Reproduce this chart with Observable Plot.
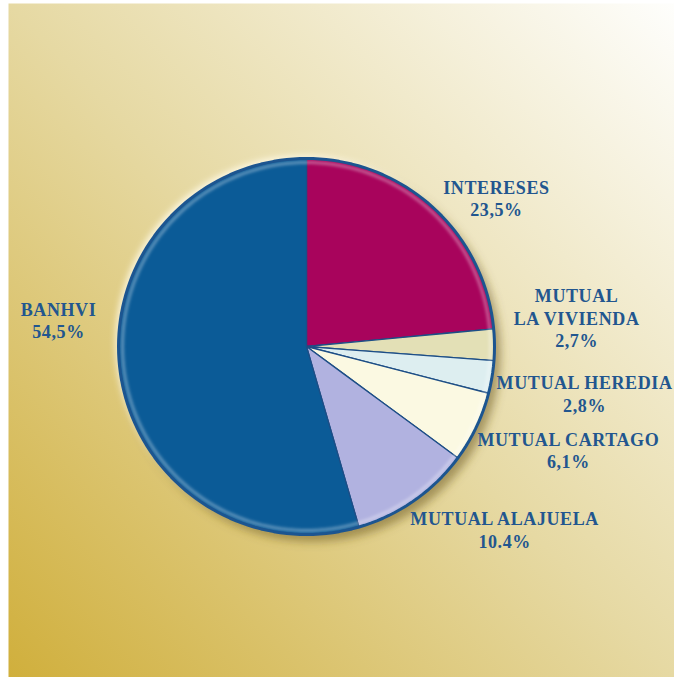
<!DOCTYPE html>
<html><head><meta charset="utf-8">
<script src="https://cdn.jsdelivr.net/npm/d3@7"></script>
<script src="https://cdn.jsdelivr.net/npm/@observablehq/plot@0.6"></script>
<style>html,body{margin:0;padding:0;background:#fff;}#chart{width:674px;height:677px;}</style>
</head><body><div id="chart"></div>
<script>
// ---- data ----
const categories = ["INTERESES", "MUTUAL\nLA VIVIENDA", "MUTUAL HEREDIA", "MUTUAL CARTAGO", "MUTUAL ALAJUELA", "BANHVI"];
const shares = [23.5, 2.7, 2.8, 6.1, 10.4, 54.5];
const shareLabels = ["23,5%", "2,7%", "2,8%", "6,1%", "10.4%", "54,5%"];

// ---- styles / layout ----
const sliceColors = ["#a8045c", "#e3e0b6", "#ddeef0", "#fbf9e2", "#b1b2e0", "#0b5b97"];
const W = 674, H = 677, CX = 306, CY = 346, R = 188;
const labelAngle = [51.9, 83.9, 99.6, 111.5, 132.7, 276.2]; // degrees clockwise from 12 o'clock
const labelDist = [1.284, 1.445, 1.5, 1.497, 1.434, 1.327];  // in pie radii

// polar helpers on a pole-centred azimuthal equidistant projection
const lonOf = t => 180 - t;
const latOf = rho => 90 - 90 * rho;

const total = d3.sum(shares);
let acc = 0;
const slices = shares.map((v, i) => {
  const a0 = acc / total * 360; acc += v; const a1 = acc / total * 360;
  const l1 = lonOf(a1), l2 = lonOf(a0);
  const n = Math.max(2, Math.ceil((l2 - l1) / 5));
  const ring = [[0, 90]];
  for (let k = 0; k <= n; k++) ring.push([l2 - (l2 - l1) * k / n, 0]);
  ring.push([0, 90]);
  return {type: "Feature", properties: {name: categories[i]}, geometry: {type: "Polygon", coordinates: [ring]}};
});

const labels = categories.map((c, i) => ({
  text: c + "\n" + shareLabels[i],
  lon: lonOf(labelAngle[i]),
  lat: latOf(labelDist[i])
}));

const disc = d3.geoCircle().center([0, 90]).radius(90)();
const bevel = d3.geoCircle().center([0, 90]).radius(90 * (1 - 4 / R))();

const projection = d3.geoAzimuthalEquidistant()
  .rotate([0, -90])
  .scale(R / (Math.PI / 2))
  .translate([CX, CY]);

const svg = Plot.plot({
  width: W, height: H,
  margin: 0,
  projection,
  color: {domain: categories, range: sliceColors},
  marks: [
    Plot.frame({fill: "url(#bgGrad)", stroke: null, insetLeft: 8, insetTop: 3}),
    Plot.geo([disc], {fill: "#fffbe8", fillOpacity: 0.9, dx: -3, dy: -3, ariaDescription: "glow"}),
    Plot.geo([disc], {fill: "#6b5a20", fillOpacity: 0.55, dx: 6, dy: 7, ariaDescription: "shadow"}),
    Plot.geo(slices, {fill: d => d.properties.name, stroke: "#1d4e86", strokeWidth: 1.3, strokeLinejoin: "round"}),
    Plot.geo([bevel], {fill: "none", stroke: "#ffffff", strokeOpacity: 0.35, strokeWidth: 3, ariaDescription: "bevel"}),
    Plot.geo([disc], {fill: "none", stroke: "#1c5590", strokeWidth: 3}),
    Plot.text(labels, {
      x: "lon", y: "lat", text: "text",
      fontFamily: "Liberation Serif, Times New Roman, serif",
      fontWeight: "bold", fontSize: 18, lineHeight: 1.25,
      fill: "#22568f", textAnchor: "middle", ariaDescription: "labels"
    })
  ]
});

const s = d3.select(svg);
s.style("background", "#ffffff");
s.insert("defs", ":first-child").html(`
  <linearGradient id="bgGrad" x1="0" y1="1" x2="1" y2="0">
    <stop offset="0" stop-color="#d0af3c"/>
    <stop offset="0.5" stop-color="#e6d9a3"/>
    <stop offset="1" stop-color="#fefefc"/>
  </linearGradient>
  <filter id="blurS" x="-20%" y="-20%" width="140%" height="140%"><feGaussianBlur stdDeviation="5"/></filter>
  <filter id="blurG" x="-20%" y="-20%" width="140%" height="140%"><feGaussianBlur stdDeviation="3"/></filter>
  <filter id="blurB" x="-20%" y="-20%" width="140%" height="140%"><feGaussianBlur stdDeviation="1.5"/></filter>
`);
s.selectAll('g[aria-description="shadow"]').attr("filter", "url(#blurS)");
s.selectAll('g[aria-description="glow"]').attr("filter", "url(#blurG)");
s.selectAll('g[aria-description="bevel"]').attr("filter", "url(#blurB)");
s.selectAll('g[aria-description="labels"]').style("letter-spacing", "0.6px");
document.getElementById("chart").appendChild(svg);
</script>
</body></html>
